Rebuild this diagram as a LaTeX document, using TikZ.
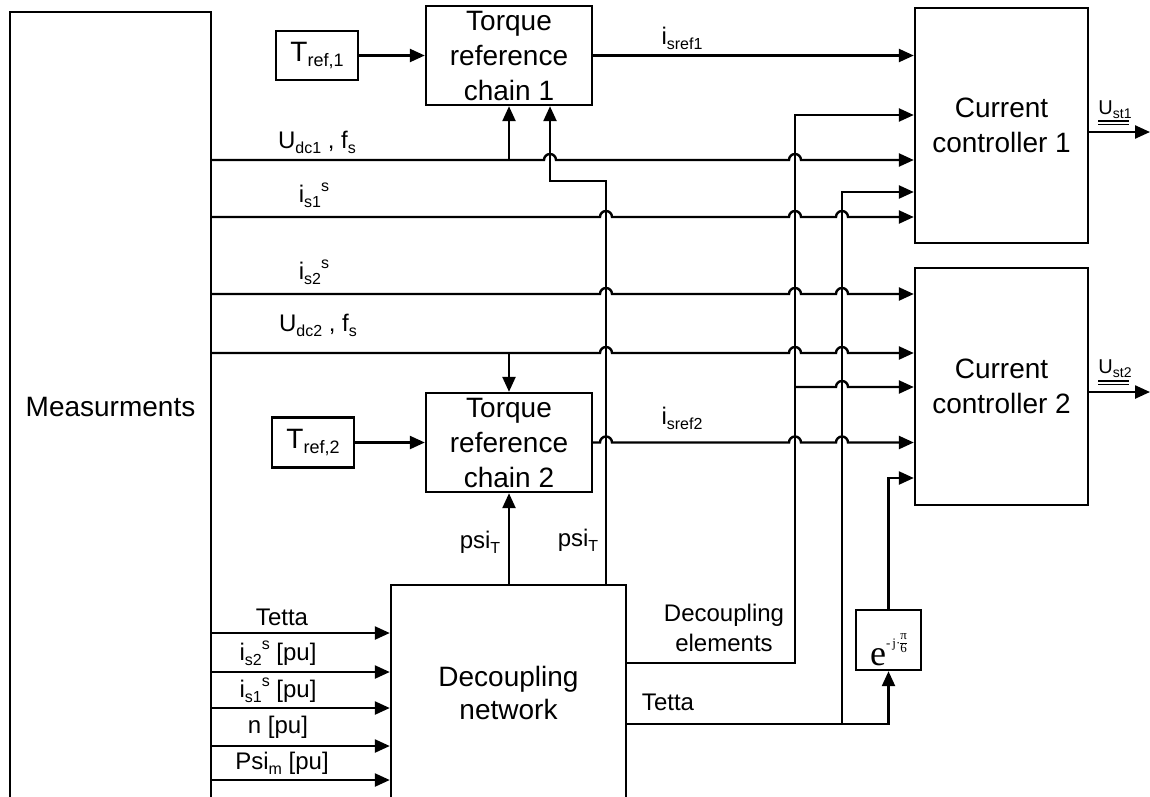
\documentclass[tikz,border=0pt]{standalone}
\usepackage{fontspec}
\setmainfont{Liberation Sans}
\newfontfamily\tms{Liberation Serif}
\usetikzlibrary{arrows.meta}
\newcommand\lo[2][16]{{\fontsize{#1}{#1}\selectfont\raisebox{-0.3em}{#2}}}
\newcommand\hi[2][16]{{\fontsize{#1}{#1}\selectfont\raisebox{0.7em}{#2}}}
\begin{document}
\begin{tikzpicture}[x=1pt,y=-1pt,line width=2.4pt,
  blk/.style={draw,line width=2.4pt,inner sep=0pt,align=center,font=\fontsize{28}{35}\selectfont},
  lab/.style={inner sep=0pt,font=\fontsize{24}{30}\selectfont},
  olab/.style={inner sep=0pt,font=\fontsize{20}{20}\selectfont},
  arr/.style={-{Triangle[length=15pt,width=13pt]}},
  uline/.style={line width=1.2pt}]
\useasboundingbox (0,0) rectangle (1150,796);
\clip (0,0) rectangle (1150,796);
% blocks
\node[blk,minimum width=201pt,minimum height=790pt] (meas) at (110.5,407) {Measurments};
\node[blk,minimum width=166pt,minimum height=99pt] (ch1) at (509,55.5) {Torque\\reference\\chain 1};
\node[blk,minimum width=166pt,minimum height=99pt] (ch2) at (509,442.5) {Torque\\reference\\chain 2};
\node[blk,minimum width=82pt,minimum height=49pt] (tr1) at (317,55.5) {T\lo[18]{ref,1}};
\node[blk,minimum width=82pt,minimum height=50pt] (tr2) at (313,442.5) {T\lo[18]{ref,2}};
\node[blk,minimum width=173pt,minimum height=235pt] (cc1) at (1001.5,125.5) {Current\\controller 1};
\node[blk,minimum width=173pt,minimum height=237pt] (cc2) at (1001.5,386.5) {Current\\controller 2};
\node[blk,minimum width=235pt,minimum height=230pt] (dec) at (508.5,700) {};
\node[inner sep=0pt,align=center,font=\fontsize{28}{33}\selectfont] (dect) at (508.5,693) {Decoupling\\network};
\node[draw,line width=2.4pt,minimum width=65pt,minimum height=60pt,inner sep=0pt,
      text height=55pt,text depth=5pt] (ex) at (888.5,640)
  {{\tms\fontsize{36}{36}\selectfont e}\raisebox{18pt}{\tms\fontsize{13}{13}\selectfont -\,j·\renewcommand\arraystretch{0.8}\setlength\arrayrulewidth{0.6pt}\begin{tabular}{@{}c@{}}π\\\hline 6\end{tabular}}};
% reference inputs
\draw[arr] (tr1) -- (ch1);
\draw[arr] (tr2) -- (ch2);
% i_sref1
\draw[arr] (ch1.east) -- (cc1.west |- ch1.east);
% Udc1
\draw[arr] (meas.east |- 0,160) \foreach \h in {550,795}{ -- (\h-6,160) arc[start angle=180,end angle=360,radius=6]} -- (cc1.west |- 0,160);
\draw[arr] (ch1.south |- 0,160) -- (ch1.south);
% is1
\draw[arr] (meas.east |- 0,217) \foreach \h in {606,795,842}{ -- (\h-6,217) arc[start angle=180,end angle=360,radius=6]} -- (cc1.west |- 0,217);
% is2
\draw[arr] (meas.east |- 0,294) \foreach \h in {606,795,842}{ -- (\h-6,294) arc[start angle=180,end angle=360,radius=6]} -- (cc2.west |- 0,294);
% Udc2
\draw[arr] (meas.east |- 0,353) \foreach \h in {606,795,842}{ -- (\h-6,353) arc[start angle=180,end angle=360,radius=6]} -- (cc2.west |- 0,353);
\draw[arr] (ch2.north |- 0,353) -- (ch2.north);
% i_sref2
\draw[arr] (ch2.east) \foreach \h in {606,795,842}{ -- (\h-6,442.5) arc[start angle=180,end angle=360,radius=6]} -- (cc2.west |- ch2.east);
% psi_T
\draw[arr] (ch2.south |- dec.north) -- (ch2.south);
\draw[arr] (dec.north -| 606,0) -- (606,181) -- (550,181) -- (ch1.south -| 550,0);
% decoupling elements
\draw[arr] (dec.east |- 0,663) -- (795,663) -- (795,115) -- (cc1.west |- 0,115);
\draw[arr] (795,387) -- (842-6,387) arc[start angle=180,end angle=360,radius=6] -- (cc2.west |- 0,387);
% Tetta
\draw[arr] (dec.east |- 0,724) -- (ex.south |- 0,724) -- (ex.south);
\draw[arr] (842,724) -- (842,192) -- (cc1.west |- 0,192);
\draw[arr] (ex.north) -- (ex.north |- 0,478) -- (cc2.west |- 0,478);
% lower-left inputs
\foreach \y in {633,672,708,746,780}{\draw[arr] (meas.east |- 0,\y) -- (dec.west |- 0,\y);}
% outputs
\coordinate (o1) at (1150,132);
\coordinate (o2) at (1150,392);
\draw[arr] (cc1.east |- o1) -- (o1);
\draw[arr] (cc2.east |- o2) -- (o2);
% labels
\node[lab] (lud1) at (317,142) {U\lo{dc1} , f\lo{s}};
\node[lab] (lis1) at (314,195) {i\lo{s1}\hi{s}};
\node[lab] (lis2) at (314,272) {i\lo{s2}\hi{s}};
\node[lab] (lud2) at (318,325) {U\lo{dc2} , f\lo{s}};
\node[lab] (lir1) at (682,38) {i\lo{sref1}};
\node[lab] (lir2) at (682,418) {i\lo{sref2}};
\node[lab] (lps1) at (480,542) {psi\lo{T}};
\node[lab] (lps2) at (578,540) {psi\lo{T}};
\node[lab,align=center,font=\fontsize{24}{30}\selectfont] (lde) at (724,628) {Decoupling\\elements};
\node[lab] (ltr) at (668,702) {Tetta};
\node[lab] (lt) at (282,617) {Tetta};
\node[lab] (l2) at (278,653) {i\lo{s2}\hi{s} [pu]};
\node[lab] (l1) at (278,690) {i\lo{s1}\hi{s} [pu]};
\node[lab] (ln) at (278,727) {n [pu]};
\node[lab] (lp) at (282,763) {Psi\lo{m} [pu]};
\node[olab] (u1) at (1115,110) {U\lo[14]{st1}};
\node[olab] (u2) at (1115,369) {U\lo[14]{st2}};
\draw[uline] (1098,121) -- (1129,121);
\draw[uline] (1098,124.5) -- (1129,124.5);
\draw[uline] (1098,381) -- (1129,381);
\draw[uline] (1098,384.5) -- (1129,384.5);
\end{tikzpicture}
\end{document}
